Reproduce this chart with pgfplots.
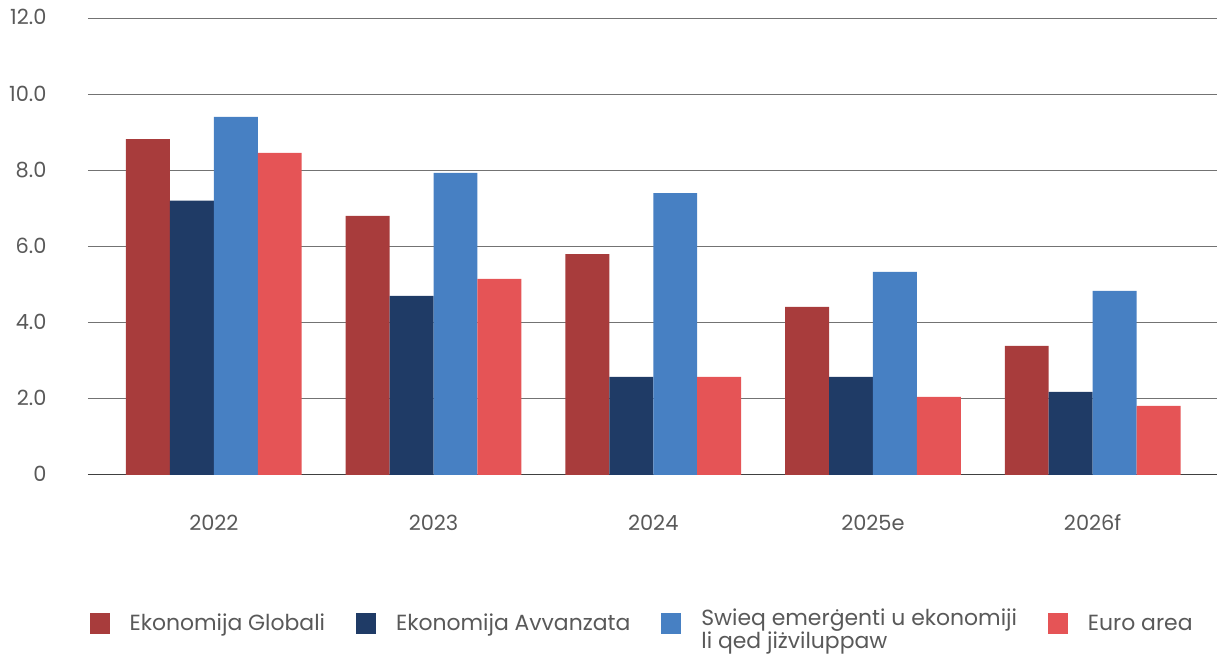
\documentclass[border=0pt]{standalone}
\usepackage{pgfplots}
\pgfplotsset{compat=1.18}
\usepackage{fontspec}
\setmainfont{Poppins}
\definecolor{cGlob}{HTML}{A83C3C}
\definecolor{cAvv}{HTML}{1F3B66}
\definecolor{cEmer}{HTML}{4780C3}
\definecolor{cEuro}{HTML}{E55456}
\definecolor{txt}{HTML}{595959}
\begin{document}
\begin{tikzpicture}
\begin{axis}[
    name=ax,
    scale only axis,
    width=1129bp, height=457bp,
    ybar=0pt, bar width=0.2,
    xmin=-0.573, xmax=4.564,
    ymin=0, ymax=12,
    xtick={0,1,2,3,4},
    xticklabels={2022,2023,2024,2025e,2026f},
    ytick={0,2,4,6,8,10,12},
    yticklabels={0,2.0,4.0,6.0,8.0,10.0,12.0},
    axis y line*=left,
    y axis line style={draw=none},
    axis x line*=bottom,
    x axis line style={draw=black!75, line width=0.9bp, -},
    major tick length=0pt,
    ymajorgrids=true,
    grid style={draw=black!55, line width=0.9bp},
    tick label style={font=\fontsize{21}{22}\selectfont, text=txt},
    xticklabel style={anchor=base, yshift=-56bp},
    yticklabel style={anchor=base east, yshift=-7bp, xshift=-38bp},
    legend style={at={(0.491,-0.325)}, anchor=center, draw=none,
        font=\fontsize{22}{19}\selectfont, text=txt,
        legend columns=4,
        /tikz/every odd column/.append style={column sep=18bp},
        /tikz/every even column/.append style={column sep=29bp}},
    legend cell align=left,
    legend image code/.code={\fill[#1,draw=none] (0bp,-11bp) rectangle (20bp,10bp);},
    every axis plot/.append style={draw=none},
]
\addplot[fill=cGlob] coordinates {(0,8.82) (1,6.80) (2,5.80) (3,4.41) (4,3.39)};
\addlegendentry{Ekonomija Globali}
\addplot[fill=cAvv] coordinates {(0,7.20) (1,4.70) (2,2.57) (3,2.57) (4,2.18)};
\addlegendentry{Ekonomija Avvanzata}
\addplot[fill=cEmer] coordinates {(0,9.40) (1,7.93) (2,7.40) (3,5.33) (4,4.83)};
\addlegendentry{\begin{tabular}{@{}l@{}}Swieq emerġenti u ekonomiji\\li qed jiżviluppaw\end{tabular}}
\addplot[fill=cEuro] coordinates {(0,8.46) (1,5.15) (2,2.57) (3,2.05) (4,1.81)};
\addlegendentry{Euro area}
\end{axis}
\path[use as bounding box] ([xshift=-88bp,yshift=-180bp]ax.south west) rectangle ([yshift=18bp]ax.north east);
\end{tikzpicture}
\end{document}
